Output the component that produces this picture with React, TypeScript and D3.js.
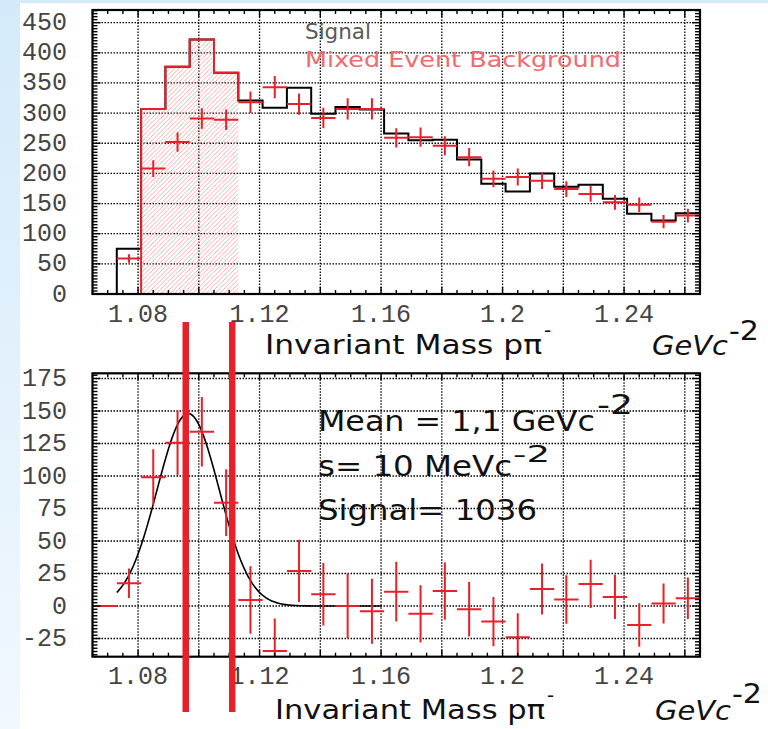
import React from "react";
import * as d3 from "d3";

// ---------- data ----------
const binStart = 1.065;
const binWidth = 0.008;
// Signal histogram (black step)
const signalCounts = [0, 75, 307, 377, 422, 367, 321, 309, 342, 299, 310, 306, 266, 255, 256, 223, 183, 170, 200, 178, 181, 158, 133, 122, 134];
// Mixed event background histogram (red step, hatched region)
const mixedCounts = [0, 0, 307, 377, 422, 367];
const hatchBins = [2, 3, 4, 5];
// Mixed event background points (red crosses, top panel)
const bgPoints = [null, 59, 208, 252, 291, 289, 318, 343, 315, 292, 307, 307, 259, 260, 246, 227, 191, 194, 188, 174, 166, 152, 148, 120, 130];
const bgErrors = [0, 7, 14, 16, 17, 17, 18, 18.5, 17.7, 17, 17.5, 17.5, 16, 16, 15.7, 15, 14, 14, 13.7, 13, 13, 12.3, 12, 11, 11.4];
// Subtracted signal (red crosses, bottom panel)
const subPoints = [0, 17.5, 99, 125.6, 134, 79.5, 4.6, -34.6, 27, 9, 0, -4, 11, -6, 11.5, -2.5, -12, -24, 13, 5, 17, 7, -14.6, 2, 6];
const subErrors = [0, 11.4, 21.5, 25, 26.7, 25.6, 26, 25, 24, 24, 25, 25, 23, 22, 22, 21, 19, 18.5, 19.6, 18.6, 18.6, 17, 16.7, 15.4, 16];
// Gaussian fit
const fitMean = 1.0965;
const fitSigma = 0.0102;
const fitAmp = 148;
const fitRange = [1.073, 1.16];
// Selection lines
const selLines = [1.0957, 1.111];

const xTickLabels = [1.08, 1.12, 1.16, 1.2, 1.24];
const topYLabels = [0, 50, 100, 150, 200, 250, 300, 350, 400, 450];
const botYLabels = [-25, 0, 25, 50, 75, 100, 125, 150, 175];

const W = 768, H = 729;
const L = 92.5, R = 700;
const x = d3.scaleLinear().domain([1.065, 1.265]).range([L, R]);
const yTop = d3.scaleLinear().domain([0, 471]).range([294, 10]);
const yBot = d3.scaleLinear().domain([-39, 179]).range([656.7, 373.3]);

const RED = "#e8202a";
const nb = signalCounts.length;
const edges = d3.range(nb + 1).map((i) => binStart + binWidth * i);

function stepPath(vals: number[], y: any, start = 0) {
  let p = "";
  vals.forEach((v, k) => {
    const i = start + k;
    const x0 = x(edges[i]);
    const x1 = x(edges[i + 1]);
    if (k === 0) p += `M${x0},${y(v)}`;
    else p += `V${y(v)}`;
    p += `H${x1}`;
  });
  return p;
}

function fmt(v: number) {
  return String(v);
}

function Frame({ y, majorY, minorY, top, bottom, yLabels, labelBase }: any) {
  const [d0, d1] = y.domain();
  const xMaj = d3.range(1.08, 1.2651, 0.02);
  const xMin = d3.range(1.065, 1.2651, 0.005);
  const yMin = d3.range(Math.ceil(d0 / minorY) * minorY, d1 + 1e-9, minorY);
  const yMaj = d3.range(Math.ceil(d0 / majorY) * majorY, d1 + 1e-9, majorY);
  const ticks: any[] = [];
  xMin.forEach((v, i) => {
    const isMaj = xMaj.some((m) => Math.abs(m - v) < 1e-6);
    const len = isMaj ? 7 : 4;
    ticks.push(<line key={"xb" + i} x1={x(v)} x2={x(v)} y1={bottom} y2={bottom - len} />);
    ticks.push(<line key={"xt" + i} x1={x(v)} x2={x(v)} y1={top} y2={top + len} />);
  });
  yMin.forEach((v, i) => {
    const isMaj = yMaj.some((m) => Math.abs(m - v) < 1e-6);
    const len = isMaj ? 8 : 5;
    ticks.push(<line key={"yl" + i} x1={L} x2={L + len} y1={y(v)} y2={y(v)} />);
    ticks.push(<line key={"yr" + i} x1={R} x2={R - len} y1={y(v)} y2={y(v)} />);
  });
  return (
    <g>
      <g stroke="#000" strokeWidth={1.4}>{ticks}</g>
      <rect x={L} y={top} width={R - L} height={bottom - top} fill="none" stroke="#000" strokeWidth={2.2} />
      <g fontFamily="'Liberation Mono', 'DejaVu Sans Mono', monospace" fontSize={25} fill="#444">
        {yLabels.map((v: number) => (
          <text key={v} x={67} y={y(v) + 7.5} textAnchor="end">{fmt(v)}</text>
        ))}
        {xTickLabels.map((v) => (
          <text key={v} x={x(v)} y={labelBase} textAnchor="middle">{fmt(v)}</text>
        ))}
      </g>
    </g>
  );
}

function Grid({ y, step }: any) {
  const [d0, d1] = y.domain();
  const ys = d3.range(Math.ceil(d0 / step) * step, d1, step).filter((v) => Math.abs(v - d0) > 1e-6);
  const xs = d3.range(1.08, 1.2651, 0.02);
  return (
    <g stroke="#000" strokeWidth={1.3} strokeDasharray="1.5 1.5">
      {ys.map((v) => (
        <line key={"h" + v} x1={L} x2={R} y1={y(v)} y2={y(v)} />
      ))}
      {xs.map((v) => (
        <line key={"v" + v} x1={x(v)} x2={x(v)} y1={y.range()[0]} y2={y.range()[1]} />
      ))}
    </g>
  );
}

function Crosses({ pts, errs, y, clipId }: any) {
  const [d0, d1] = y.domain();
  return (
    <g stroke={RED} strokeWidth={2} clipPath={`url(#${clipId})`}>
      {pts.map((v: number | null, i: number) => {
        if (v === null) return null;
        const cx = x(edges[i] + binWidth / 2);
        const lo = Math.max(d0, v - errs[i]);
        const hi = Math.min(d1, v + errs[i]);
        return (
          <g key={i}>
            <line x1={x(edges[i])} x2={x(edges[i + 1])} y1={y(v)} y2={y(v)} />
            {errs[i] > 0 && <line x1={cx} x2={cx} y1={y(lo)} y2={y(hi)} />}
          </g>
        );
      })}
    </g>
  );
}

function AxisTitle({ xStart, base, supBase, unitX, tEnd }: any) {
  const comic = "'Comic Sans MS', 'DejaVu Sans', sans-serif";
  return (
    <g fontFamily={comic} fill="#111">
      <text x={xStart} y={base} fontSize={27} textLength={tEnd - xStart} lengthAdjust="spacingAndGlyphs">
        Invariant Mass pπ
      </text>
      <text x={tEnd + 2} y={base - 17} fontSize={20}>-</text>
      <text x={unitX} y={base + 1} fontSize={27} fontStyle="italic" textLength={76} lengthAdjust="spacingAndGlyphs">
        GeVc
      </text>
      <text x={unitX + 77} y={supBase} fontSize={27} textLength={30} lengthAdjust="spacingAndGlyphs">
        -2
      </text>
    </g>
  );
}

export default function App() {
  const fitXs = d3.range(fitRange[0], fitRange[1] + 1e-9, 0.0005);
  const fitLine = d3
    .line<number>()
    .x((v) => x(v))
    .y((v) => yBot(fitAmp * Math.exp(-((v - fitMean) ** 2) / (2 * fitSigma * fitSigma))))
    .curve(d3.curveMonotoneX);

  // red histogram outline
  let redPath = stepPath(mixedCounts, yTop, 0);
  redPath += `V${yTop(signalCounts[mixedCounts.length])}`;
  const hatchPath =
    `M${x(edges[hatchBins[0]])},${yTop(0)}` +
    hatchBins.map((i) => `V${yTop(mixedCounts[i])}H${x(edges[i + 1])}`).join("") +
    `V${yTop(0)}Z`;

  const comic = "'Comic Sans MS', 'DejaVu Sans', sans-serif";

  return (
    <svg width={W} height={H} style={{ position: "absolute", left: 0, top: 0, background: "#fff" }}>
      <defs>
        <linearGradient id="lg" x1="0" y1="0" x2="0" y2="1">
          <stop offset="0" stopColor="#d4eafa" />
          <stop offset="1" stopColor="#f1f8fe" />
        </linearGradient>
        <pattern id="hatch" width={4.5} height={4.5} patternUnits="userSpaceOnUse">
          <path d="M-1,1 l2,-2 M0,4.5 l4.5,-4.5 M3.5,5.5 l2,-2" stroke="#f49a9a" strokeWidth={0.8} />
        </pattern>
        <clipPath id="clipTop">
          <rect x={L} y={10} width={R - L} height={284} />
        </clipPath>
        <clipPath id="clipBot">
          <rect x={L} y={373.3} width={R - L} height={283.4} />
        </clipPath>
      </defs>
      <rect x={0} y={0} width={W} height={H} fill="#fff" />
      <rect x={0} y={0} width={20} height={H} fill="url(#lg)" />
      <rect x={0} y={0} width={W} height={3} fill="#d6ebfa" />

      {/* ---------- top panel ---------- */}
      <rect x={L} y={10} width={R - L} height={284} fill="#fff" />
      <Grid y={yTop} step={50} />
      <path d={hatchPath} fill="url(#hatch)" />
      <path d={stepPath(signalCounts, yTop)} fill="none" stroke="#000" strokeWidth={2} />
      <path d={redPath} fill="none" stroke={RED} strokeWidth={2} />
      <Crosses pts={bgPoints} errs={bgErrors} y={yTop} clipId="clipTop" />
      <g fontFamily="'DejaVu Sans', sans-serif" fontSize={22}>
        <text x={305} y={39} fill="#5a5a5a" textLength={66} lengthAdjust="spacingAndGlyphs">Signal</text>
        <text x={305} y={67} fill="#f26a6e" textLength={316} lengthAdjust="spacingAndGlyphs">Mixed Event Background</text>
      </g>
      <Frame y={yTop} majorY={50} minorY={5} top={10} bottom={294} yLabels={topYLabels} labelBase={322} />
      <AxisTitle xStart={265} tEnd={542} base={354} unitX={652} supBase={340} />

      {/* ---------- bottom panel ---------- */}
      <rect x={L} y={373.3} width={R - L} height={283.4} fill="#fff" />
      <Grid y={yBot} step={25} />
      <path d={fitLine(fitXs) || ""} fill="none" stroke="#000" strokeWidth={1.6} />
      <Crosses pts={subPoints} errs={subErrors} y={yBot} clipId="clipBot" />
      <g fontFamily={comic} fill="#111">
        <text x={318} y={431} fontSize={28} textLength={277} lengthAdjust="spacingAndGlyphs">Mean = 1,1 GeVc</text>
        <text x={597} y={414} fontSize={26} textLength={36} lengthAdjust="spacingAndGlyphs">-2</text>
        <text x={318} y={476} fontSize={28} textLength={194} lengthAdjust="spacingAndGlyphs">s= 10 MeVc</text>
        <text x={513} y={462} fontSize={23} textLength={37} lengthAdjust="spacingAndGlyphs">-2</text>
        <text x={318} y={520} fontSize={28} textLength={219} lengthAdjust="spacingAndGlyphs">Signal= 1036</text>
      </g>
      <Frame y={yBot} majorY={25} minorY={2.5} top={373.3} bottom={656.7} yLabels={botYLabels} labelBase={684} />
      <AxisTitle xStart={275} tEnd={545} base={719} unitX={655} supBase={703} />

      {/* selection lines */}
      {selLines.map((v) => (
        <line key={v} x1={x(v)} x2={x(v)} y1={322} y2={712} stroke={RED} strokeWidth={6.5} />
      ))}
    </svg>
  );
}
